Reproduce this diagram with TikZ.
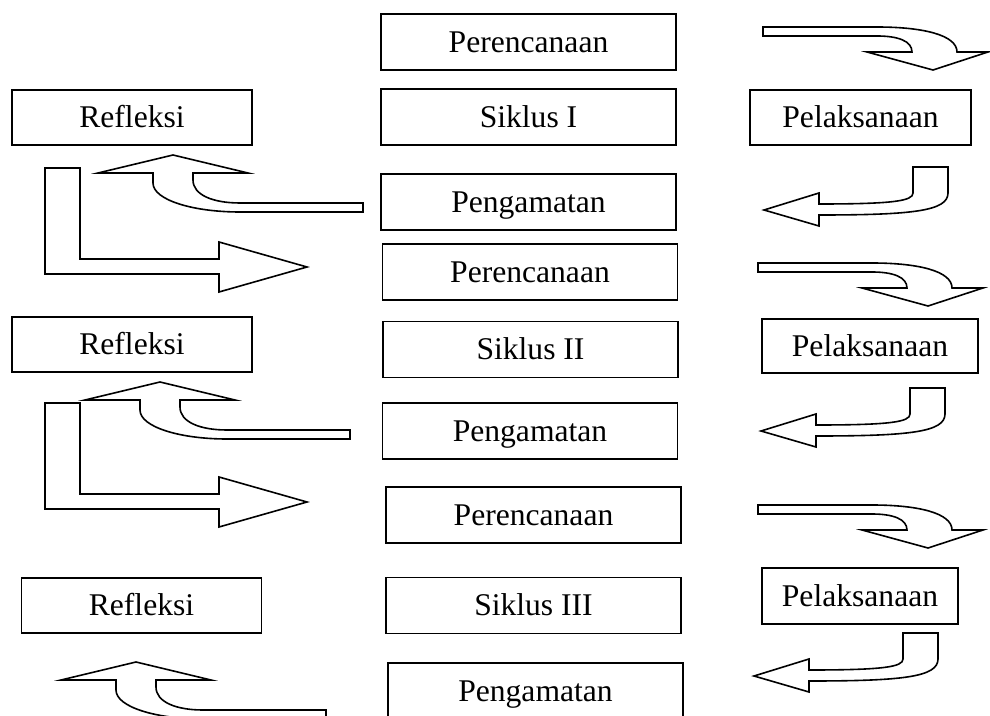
\documentclass[tikz,border=0pt]{standalone}
\usepackage{fontspec}
\setmainfont{Liberation Serif}
\tikzset{
  stage/.style={draw, line width=0.8pt, inner sep=0pt, minimum height=28pt,
    text height=10.4pt, text depth=0pt, font=\fontsize{15.8}{19}\selectfont},
  blockarrow/.style={draw, line width=0.8pt, line join=miter, fill=white},
  turnright/.pic={
    \draw[blockarrow] (0,0) -- (114,0) .. controls (160,0) and (194,8) .. (194,25)
      -- (225,25) -- (170,43) -- (104,25) -- (149,25)
      .. controls (149,14) and (135,9) .. (114,9) -- (0,9) -- cycle;},
  turnleft/.pic={
    \draw[blockarrow] (0,0) -- (35,0) -- (35,26) .. controls (35,44) and (0,48) .. (-94,48)
      -- (-94,59) -- (-149,43) -- (-94,26) -- (-94,37)
      .. controls (-20,37) and (0,34) .. (0,26) -- cycle;},
  turnup/.pic={
    \draw[blockarrow] (0,0) -- (75,18) -- (20,18) -- (20,25)
      .. controls (20,40) and (40,48) .. (67,48) -- (190,48) -- (190,57) -- (67,57)
      .. controls (20,57) and (-20,45) .. (-20,28) -- (-20,18) -- (-75,18) -- cycle;},
  turncorner/.pic={
    \draw[blockarrow] (0,0) -- (35,0) -- (35,91) -- (174,91) -- (174,74) -- (262,99)
      -- (174,124) -- (174,106) -- (0,106) -- cycle;}
}

\begin{document}
\begin{tikzpicture}[x=0.5pt, y=-0.5pt]
\clip (0,0) rectangle (990,716);
% siklus I
\node[stage, minimum width=147.5pt] (plan1) at (528.5,42) {Perencanaan};
\node[stage, minimum width=147.5pt] (cycle1) at (528.5,117) {Siklus I};
\node[stage, minimum width=147.5pt] (observe1) at (528.5,202) {Pengamatan};
\node[stage, minimum width=120pt, minimum height=27.5pt] (reflect1) at (132,117.5) {Refleksi};
\node[stage, minimum width=110.5pt, minimum height=27.5pt] (act1) at (860.5,117.5) {Pelaksanaan};
\pic at (763,27) {turnright};
\pic at (913,167) {turnleft};
\pic at (173,155) {turnup};
\pic at (45,168) {turncorner};
% siklus II
\node[stage, minimum width=147.5pt] (plan2) at (530,272) {Perencanaan};
\node[stage, minimum width=147.5pt] (cycle2) at (530.5,349.5) {Siklus II};
\node[stage, minimum width=147.5pt] (observe2) at (530,431) {Pengamatan};
\node[stage, minimum width=120pt, minimum height=27.5pt] (reflect2) at (132,344.5) {Refleksi};
\node[stage, minimum width=108pt, minimum height=27pt] (act2) at (870,346) {Pelaksanaan};
\pic at (758,263) {turnright};
\pic at (910,388) {turnleft};
\pic at (160,382) {turnup};
\pic at (45,403) {turncorner};
% siklus III
\node[stage, minimum width=147.5pt] (plan3) at (533.5,515) {Perencanaan};
\node[stage, minimum width=147.5pt] (cycle3) at (533.5,605.5) {Siklus III};
\node[stage, minimum width=147.5pt] (observe3) at (535.5,691) {Pengamatan};
\node[stage, minimum width=120pt, minimum height=27.5pt] (reflect3) at (141.5,605.5) {Refleksi};
\node[stage, minimum width=98pt] (act3) at (860,596) {Pelaksanaan};
\pic at (758,505) {turnright};
\pic at (903,633) {turnleft};
\pic at (136,662) {turnup};
\end{tikzpicture}
\end{document}
